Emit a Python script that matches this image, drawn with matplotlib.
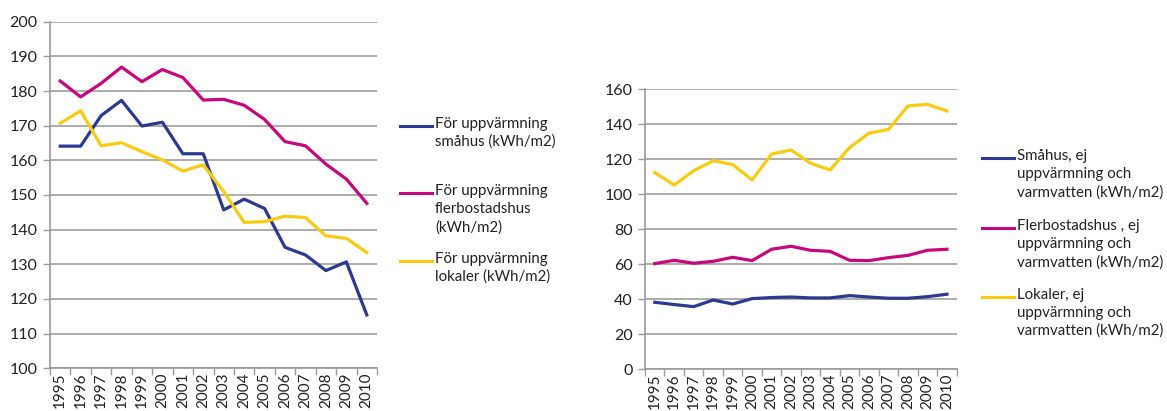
import numpy as np
import matplotlib.pyplot as plt
from matplotlib.lines import Line2D

plt.rcParams['font.family'] = ['Lato', 'DejaVu Sans']

years = [str(y) for y in range(1995, 2011)]

# Left chart: heating (kWh/m2)
heat_smahus = [164.1, 164.1, 172.9, 177.3, 169.9, 171.0, 161.9, 161.9,
               145.7, 148.8, 146.1, 134.9, 132.7, 128.2, 130.7, 115.4]
heat_flerbostad = [182.9, 178.3, 182.2, 186.9, 182.7, 186.2, 183.9, 177.4,
                   177.6, 175.9, 171.8, 165.4, 164.2, 158.9, 154.6, 147.6]
heat_lokaler = [170.7, 174.3, 164.2, 165.1, 162.5, 160.1, 156.9, 158.7,
                151.0, 142.1, 142.3, 143.9, 143.5, 138.2, 137.5, 133.4]

# Right chart: excluding heating and hot water (kWh/m2)
el_smahus = [38.3, 37.0, 35.8, 39.6, 37.3, 40.4, 41.0, 41.3,
             40.8, 40.8, 42.1, 41.3, 40.6, 40.6, 41.5, 42.9]
el_flerbostad = [60.4, 62.3, 60.6, 61.7, 64.0, 62.1, 68.6, 70.3,
                 68.0, 67.4, 62.3, 62.1, 63.8, 65.1, 68.0, 68.6]
el_lokaler = [112.4, 105.3, 113.5, 119.2, 117.0, 108.2, 123.0, 125.3,
              117.7, 113.9, 126.7, 134.9, 137.1, 150.5, 151.4, 147.6]

left_labels = ['För uppvärmning\nsmåhus (kWh/m2)',
               'För uppvärmning\nflerbostadshus\n(kWh/m2)',
               'För uppvärmning\nlokaler (kWh/m2)']
right_labels = ['Småhus, ej\nuppvärmning och\nvarmvatten (kWh/m2)',
                'Flerbostadshus , ej\nuppvärmning och\nvarmvatten (kWh/m2)',
                'Lokaler, ej\nuppvärmning och\nvarmvatten (kWh/m2)']

colors = ['#2B3990', '#C8077E', '#F9CB10']
W, H = 1167, 411


def style_axes(ax, ymin, ymax, step):
    x = np.arange(len(years))
    ax.set_xlim(-0.5, len(years) - 0.5)
    ax.set_ylim(ymin, ymax)
    ax.set_yticks(np.arange(ymin, ymax + 1, step))
    ax.set_xticks(x)
    ax.set_xticklabels(years, rotation=90)
    ax.set_xticks(np.arange(-0.5, len(years)), minor=True)
    ax.tick_params(axis='x', which='major', length=0, pad=3, labelsize=11,
                   labelcolor='#222222')
    ax.tick_params(axis='x', which='minor', length=5, color='#9a9a9a', width=1)
    ax.tick_params(axis='y', length=5, color='#9a9a9a', width=1, labelsize=11.5,
                   pad=4, labelcolor='#222222')
    ax.yaxis.grid(True, color='#a6a6a6', lw=1.3)
    ax.set_axisbelow(True)
    for s in ['top', 'right']:
        ax.spines[s].set_visible(False)
    for s in ['left', 'bottom']:
        ax.spines[s].set_color('#9a9a9a')
        ax.spines[s].set_linewidth(1.2)


def draw_legend(fig, x0, x1, ys, labels):
    for y, lab, c in zip(ys, labels, colors):
        fig.add_artist(Line2D([x0 / W, x1 / W], [1 - y / H, 1 - y / H],
                              color=c, lw=2.2, transform=fig.transFigure))
        fig.text((x1 + 3) / W, 1 - (y - 9) / H, lab, fontsize=10.8, va='top',
                 ha='left', linespacing=1.35, color='#222222')


fig = plt.figure(figsize=(W / 100, H / 100), dpi=100)

ax1 = fig.add_axes([50 / W, 1 - 368.3 / H, (377 - 50) / W, (368.3 - 21.7) / H])
x = np.arange(len(years))
for vals, c in zip([heat_smahus, heat_flerbostad, heat_lokaler], colors):
    ax1.plot(x, vals, color=c, lw=2.3)
style_axes(ax1, 100, 200, 10)

ax2 = fig.add_axes([645 / W, 1 - 369.3 / H, (956.7 - 645) / W, (369.3 - 89.3) / H])
for vals, c in zip([el_smahus, el_flerbostad, el_lokaler], colors):
    ax2.plot(x, vals, color=c, lw=2.3)
style_axes(ax2, 0, 160, 20)

draw_legend(fig, 400, 432, [125.7, 193.3, 260.7], left_labels)
draw_legend(fig, 982, 1014, [158.3, 228.3, 296.7], right_labels)

fig.savefig('out.png', dpi=100)
